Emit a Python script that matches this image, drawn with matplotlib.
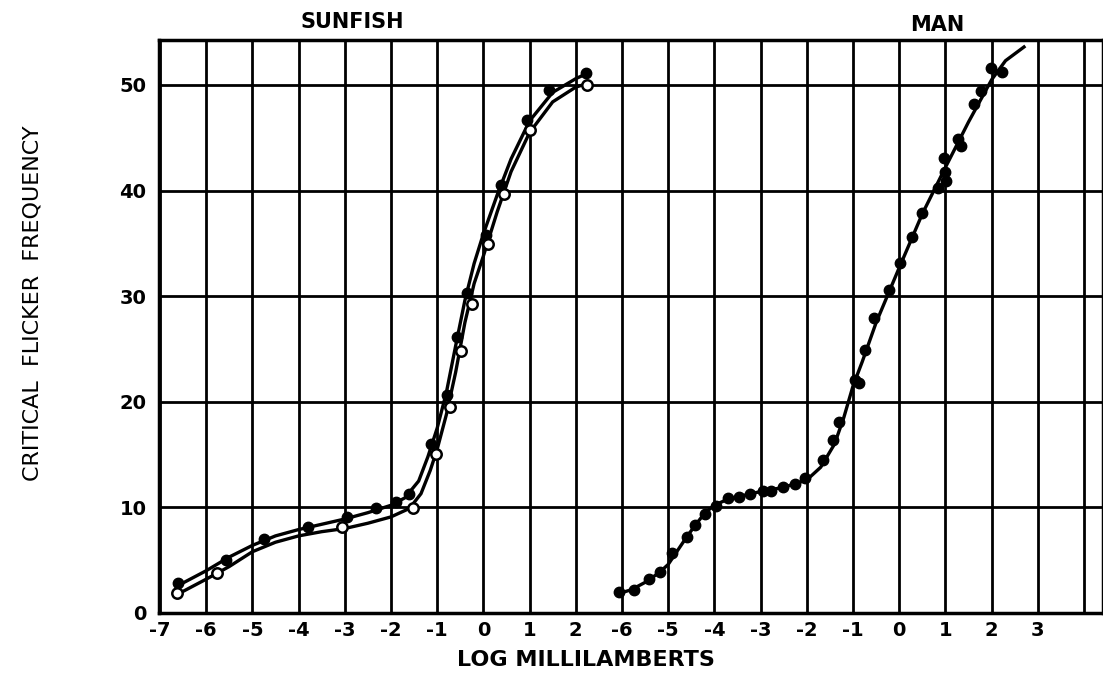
import matplotlib
matplotlib.use("Agg")
import matplotlib.pyplot as plt
from matplotlib import font_manager

names = {f.name for f in font_manager.fontManager.ttflist}
FONT = "Liberation Sans Narrow" if "Liberation Sans Narrow" in names else "DejaVu Sans"
plt.rcParams['font.family'] = [FONT, 'DejaVu Sans']

# ---- data (log millilamberts, critical flicker frequency) ----
# Sunfish, filled symbols
sun_fill_x = [-6.6, -5.57, -4.74, -3.79, -2.96, -2.33, -1.89, -1.62, -1.14, -0.78,
              -0.56, -0.36, 0.05, 0.38, 0.95, 1.42, 2.23]
sun_fill_y = [2.8, 5.0, 7.0, 8.1, 9.1, 9.9, 10.5, 11.3, 16.0, 20.6,
              26.1, 30.3, 35.8, 40.5, 46.7, 49.5, 51.1]
# Sunfish, open symbols
sun_open_x = [-6.62, -5.76, -3.06, -1.53, -1.02, -0.72, -0.49, -0.25, 0.11, 0.44, 1.0, 2.25]
sun_open_y = [1.9, 3.8, 8.1, 9.9, 15.1, 19.5, 24.8, 29.3, 34.9, 39.7, 45.7, 50.0]

# Sunfish fitted curves
sun_fill_curve_x = [-6.65, -6.0, -5.5, -5.0, -4.5, -4.0, -3.5, -3.0, -2.5, -2.0, -1.7,
                    -1.4, -1.2, -1.0, -0.8, -0.6, -0.4, -0.2, 0.0, 0.3, 0.6, 1.0, 1.5, 2.0, 2.3]
sun_fill_curve_y = [2.5, 4.0, 5.3, 6.4, 7.3, 7.9, 8.4, 8.9, 9.5, 10.2, 10.9,
                    12.5, 14.8, 17.5, 20.9, 25.3, 29.6, 33.1, 35.9, 39.6, 43.0, 46.6, 49.3, 50.6, 51.2]
sun_open_curve_x = [-6.65, -6.0, -5.5, -5.0, -4.5, -4.0, -3.5, -3.0, -2.5, -2.0, -1.6,
                    -1.35, -1.15, -1.0, -0.8, -0.6, -0.4, -0.2, 0.0, 0.3, 0.6, 1.0, 1.5, 2.0, 2.3]
sun_open_curve_y = [1.7, 3.2, 4.4, 5.8, 6.7, 7.3, 7.7, 8.0, 8.5, 9.1, 9.9,
                    11.3, 13.5, 15.5, 18.8, 22.8, 27.5, 31.2, 33.8, 38.0, 41.8, 45.5, 48.4, 49.8, 50.2]

# Man, filled symbols
man_x = [-6.07, -5.74, -5.42, -5.17, -4.91, -4.6, -4.42, -4.2, -3.96, -3.7, -3.46, -3.23,
         -2.95, -2.77, -2.51, -2.25, -2.03, -1.65, -1.44, -1.31, -0.96, -0.87, -0.74, -0.55,
         -0.22, 0.02, 0.27, 0.49, 0.83, 1.01, 0.99, 0.96, 1.27, 1.33, 1.62, 1.78, 1.99, 2.22]
man_y = [2.0, 2.2, 3.2, 3.9, 5.65, 7.2, 8.3, 9.4, 10.1, 10.9, 11.0, 11.3,
         11.6, 11.6, 11.9, 12.2, 12.75, 14.5, 16.4, 18.1, 22.1, 21.8, 24.9, 27.9,
         30.6, 33.1, 35.6, 37.9, 40.2, 40.9, 41.8, 43.1, 44.9, 44.2, 48.2, 49.4, 51.6, 51.2]
man_curve_x = [-6.1, -5.8, -5.5, -5.2, -5.0, -4.8, -4.6, -4.4, -4.2, -4.0, -3.8, -3.5,
               -3.0, -2.5, -2.0, -1.7, -1.4, -1.2, -1.0, -0.8, -0.5, 0.0, 0.5, 1.0,
               1.5, 2.0, 2.3, 2.7]
man_curve_y = [1.8, 2.2, 2.9, 3.8, 4.6, 5.9, 7.2, 8.4, 9.5, 10.2, 10.6, 11.0,
               11.5, 11.9, 12.6, 13.8, 16.0, 18.5, 21.5, 23.8, 27.5, 32.7, 37.8, 42.2,
               46.5, 50.5, 52.3, 53.6]

sun_ticks = [-7, -6, -5, -4, -3, -2, -1, 0, 1, 2]
man_ticks = [-6, -5, -4, -3, -2, -1, 0, 1, 2, 3]
y_ticks = [0, 10, 20, 30, 40, 50]
MAN_OFFSET = 9  # man axis is drawn to the right of the sunfish axis

# ---- figure ----
fig = plt.figure(figsize=(11.03, 6.75), dpi=100)
ax = fig.add_axes([159 / 1103, 62 / 675, 944 / 1103, 573 / 675])
ax.set_xlim(-7.02, 13.41)
ax.set_ylim(0, 54.26)

pos = sun_ticks + [m + MAN_OFFSET for m in man_ticks] + [man_ticks[-1] + MAN_OFFSET + 1]
labels = [str(t) for t in sun_ticks] + [str(t) for t in man_ticks] + [""]
ax.set_xticks(pos)
ax.set_xticklabels(labels)
ax.set_yticks(y_ticks)
ax.set_yticklabels([str(t) for t in y_ticks])
ax.tick_params(length=0, labelsize=14, pad=6)
ax.tick_params(axis='y', pad=9)
for lab in ax.get_xticklabels() + ax.get_yticklabels():
    lab.set_fontweight('bold')
ax.grid(True, color='black', linewidth=2.0)
ax.set_axisbelow(True)
for s in ax.spines.values():
    s.set_linewidth(2.5)

lw = 2.4
ax.plot(sun_fill_curve_x, sun_fill_curve_y, color='black', lw=lw, zorder=3)
ax.plot(sun_open_curve_x, sun_open_curve_y, color='black', lw=lw, zorder=3)
ax.plot(sun_fill_x, sun_fill_y, 'o', color='black', ms=7.5, zorder=4)
ax.plot(sun_open_x, sun_open_y, 'o', mfc='white', mec='black', mew=1.8, ms=7.5, zorder=5)

ax.plot([x + MAN_OFFSET for x in man_curve_x], man_curve_y, color='black', lw=lw, zorder=3)
ax.plot([x + MAN_OFFSET for x in man_x], man_y, 'o', color='black', ms=7.5, zorder=4)

ax.text(0.205, 1.031, "SUNFISH", transform=ax.transAxes, ha='center', va='center',
        fontsize=15, fontweight='bold')
ax.text(0.824, 1.026, "MAN", transform=ax.transAxes, ha='center', va='center',
        fontsize=15, fontweight='bold')
fig.text(33 / 1103, 1 - 303 / 675, "CRITICAL  FLICKER  FREQUENCY", rotation=90,
         ha='center', va='center', fontsize=16)
fig.text(586 / 1103, 1 - 660 / 675, "LOG MILLILAMBERTS", ha='center', va='center',
         fontsize=16, fontweight='bold')

fig.savefig("out.png", dpi=100)
